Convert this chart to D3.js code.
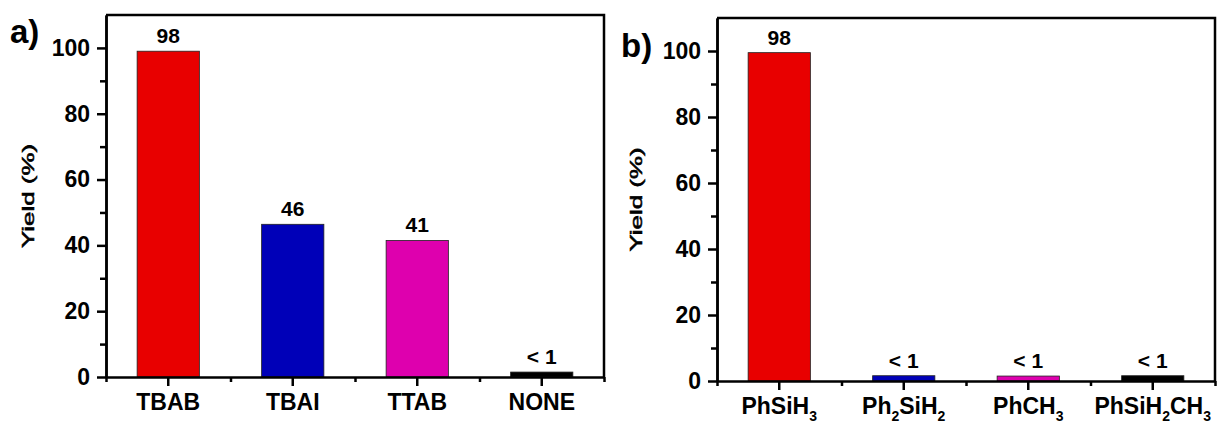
<!DOCTYPE html>
<html>
<head>
<meta charset="utf-8">
<script src="https://cdn.jsdelivr.net/npm/d3@7"></script>
<style>
  body { margin: 0; background: #fff; }
  text { font-family: "Liberation Sans", Arial, sans-serif; font-weight: bold; fill: #000; }
  .axis path, .axis line { stroke: #000; stroke-width: 2.5; }
</style>
</head>
<body>
<div class="container"></div>
<script>
// panel a
var catsA = ["TBAB", "TBAI", "TTAB", "NONE"];
var valsA = [99, 46.4, 41.5, 1.5];
var labelsA = ["98", "46", "41", "< 1"];

// panel b (_n = subscript)
var catsB = ["PhSiH_3", "Ph_2SiH_2", "PhCH_3", "PhSiH_2CH_3"];
var valsB = [99.5, 1.6, 1.5, 1.6];
var labelsB = ["98", "< 1", "< 1", "< 1"];

var barColors = ["#e80000", "#0000b8", "#de00ae", "#000000"];
var yMajor = [0, 20, 40, 60, 80, 100];
var yMinor = [10, 30, 50, 70, 90];

const WIDTH = 1220;
const HEIGHT = 427;

var translate = function(x, y){
	return "translate(" + x + "," + y + ")";
};

var svg = d3.select('.container').append('svg')
	.attr('width', WIDTH)
	.attr('height', HEIGHT);

var drawPanel = function(opt, cats, vals, labels){
	var g = svg.append('g').attr('transform', translate(opt.left, opt.top));

	var x = d3.scaleBand()
		.domain(cats)
		.range([0, opt.w])
		.paddingInner(0.5)
		.paddingOuter(0.25);

	var y = d3.scaleLinear()
		.domain([0, 110])
		.range([opt.h, 0]);

	// bars
	g.selectAll('rect.bar').data(vals)
		.enter().append('rect')
		.attr('class', 'bar')
		.attr('x', function(d, i){ return x(cats[i]); })
		.attr('width', x.bandwidth())
		.attr('y', function(d){ return y(d); })
		.attr('height', function(d){ return y(0) - y(d); })
		.attr('fill', function(d, i){ return barColors[i]; })
		.attr('stroke', '#222')
		.attr('stroke-width', 0.8);

	// value labels
	g.selectAll('text.val').data(vals)
		.enter().append('text')
		.attr('class', 'val')
		.attr('x', function(d, i){ return x(cats[i]) + x.bandwidth() / 2; })
		.attr('y', function(d){ return y(d) - 8; })
		.attr('text-anchor', 'middle')
		.style('font-size', '21px')
		.text(function(d, i){ return labels[i]; });

	// frame (top / right)
	g.append('path')
		.attr('d', 'M0,0H' + opt.w + 'V' + opt.h)
		.attr('fill', 'none')
		.attr('stroke', '#000')
		.attr('stroke-width', 2.5);

	// y axis
	g.append('g').attr('class', 'axis')
		.call(d3.axisLeft(y).tickValues(yMinor).tickSize(6).tickSizeOuter(0).tickFormat(''));
	var ya = g.append('g').attr('class', 'axis')
		.call(d3.axisLeft(y).tickValues(yMajor).tickSize(9).tickSizeOuter(0).tickPadding(7));
	ya.selectAll('text').style('font-size', '23px').attr('font-family', null);

	// x axis: minor ticks on band edges, major at centres
	var edges = d3.range(cats.length + 1).map(function(i){ return i * x.step(); });
	var xl = d3.scaleLinear().domain([0, opt.w]).range([0, opt.w]);
	g.append('g').attr('class', 'axis')
		.attr('transform', translate(0, opt.h))
		.call(d3.axisBottom(xl).tickValues(edges).tickSize(5).tickSizeOuter(0).tickFormat(''));
	var xa = g.append('g').attr('class', 'axis')
		.attr('transform', translate(0, opt.h))
		.call(d3.axisBottom(x).tickSize(9).tickSizeOuter(0).tickPadding(6));
	xa.select('.domain').remove();
	xa.selectAll('text')
		.style('font-size', '23px')
		.attr('font-family', null)
		.attr('dy', '0.8em')
		.each(function(d){
			var t = d3.select(this).text('');
			var parts = d.split(/_(\d)/);
			parts.forEach(function(p, k){
				if (p === '') return;
				if (k % 2 === 1) {
					t.append('tspan').attr('dy', 7).style('font-size', '14px').text(p);
				} else {
					var s = t.append('tspan').text(p);
					if (k > 0) s.attr('dy', -7);
				}
			});
		});

	// y label
	svg.append('text')
		.attr('transform', translate(opt.ylabX, opt.top + opt.h / 2) + ' rotate(-90)')
		.attr('text-anchor', 'middle')
		.style('font-size', '16px')
		.style('font-weight', 'normal')
		.attr('textLength', 104)
		.attr('lengthAdjust', 'spacingAndGlyphs')
		.attr('stroke', '#000')
		.attr('stroke-width', 0.5)
		.text('Yield (%)');

	// panel letter
	svg.append('text')
		.attr('x', opt.tagX)
		.attr('y', opt.tagY)
		.style('font-size', '33px')
		.text(opt.tag);
};

drawPanel({left: 106, top: 15, w: 498, h: 362, ylabX: 34, tag: 'a)', tagX: 10, tagY: 43}, catsA, valsA, labelsA);
drawPanel({left: 717, top: 18, w: 498, h: 363, ylabX: 642, tag: 'b)', tagX: 621, tagY: 57}, catsB, valsB, labelsB);
</script>
</body>
</html>
